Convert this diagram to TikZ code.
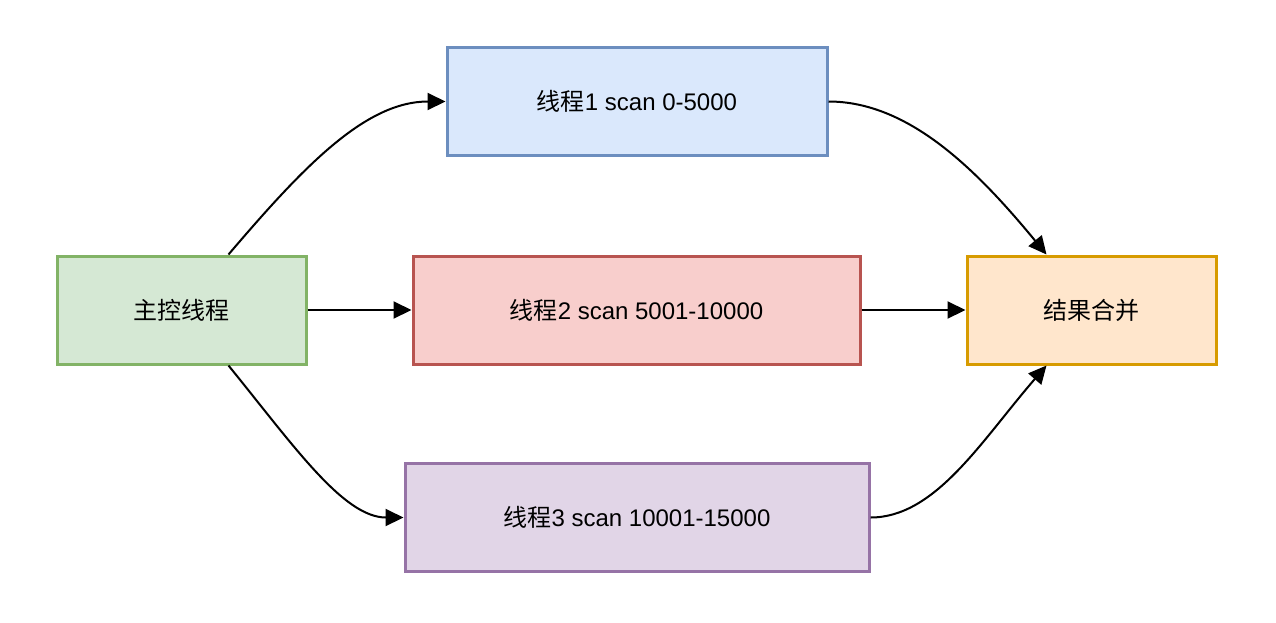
\documentclass[tikz,border=0pt]{standalone}
\usepackage{fontspec}
\setmainfont{Liberation Sans}
\newfontfamily\cjk{Noto Sans CJK SC}
\usetikzlibrary{arrows.meta}
\definecolor{gfill}{HTML}{D5E8D4}\definecolor{gline}{HTML}{82B366}
\definecolor{bfill}{HTML}{DAE8FC}\definecolor{bline}{HTML}{6C8EBF}
\definecolor{rfill}{HTML}{F8CECC}\definecolor{rline}{HTML}{B85450}
\definecolor{pfill}{HTML}{E1D5E7}\definecolor{pline}{HTML}{9673A6}
\definecolor{ofill}{HTML}{FFE6CC}\definecolor{oline}{HTML}{D79B00}
\begin{document}
\begin{tikzpicture}[x=1pt,y=-1pt,
  box/.style={draw, line width=3pt, minimum height=108pt, inner sep=0pt,
    font=\fontsize{24}{28}\selectfont},
  conn/.style={line width=2pt, -{Triangle[length=18pt,width=17pt]}}]
\fill[white] (0,0) rectangle (1276,622);
\useasboundingbox (0,0) rectangle (1276,622);
\node[box, fill=gfill, draw=gline, minimum width=249pt] (main) at (181.5,310) {\cjk 主控线程};
\node[box, fill=bfill, draw=bline, minimum width=380pt] (t1) at (637,101.5) {{\cjk 线程}1 scan 0-5000};
\node[box, fill=rfill, draw=rline, minimum width=447pt] (t2) at (636.5,310) {{\cjk 线程}2 scan 5001-10000};
\node[box, fill=pfill, draw=pline, minimum width=464pt] (t3) at (637,517.5) {{\cjk 线程}3 scan 10001-15000};
\node[box, fill=ofill, draw=oline, minimum width=249pt] (merge) at (1091.5,310) {\cjk 结果合并};
\draw[conn] ([xshift=47pt]main.north) .. controls +(75,-88) and +(-80,0) .. (t1.west);
\draw[conn] (main.east) -- (t2.west);
\draw[conn] ([xshift=47pt]main.south) .. controls +(65,80) and +(-60,0) .. (t3.west);
\draw[conn] (t1.east) .. controls +(80,0) and +(-70,-85) .. ([xshift=-45pt]merge.north);
\draw[conn] (t2.east) -- (merge.west);
\draw[conn] (t3.east) .. controls +(65,0) and +(-65,75) .. ([xshift=-45pt]merge.south);
\end{tikzpicture}
\end{document}
